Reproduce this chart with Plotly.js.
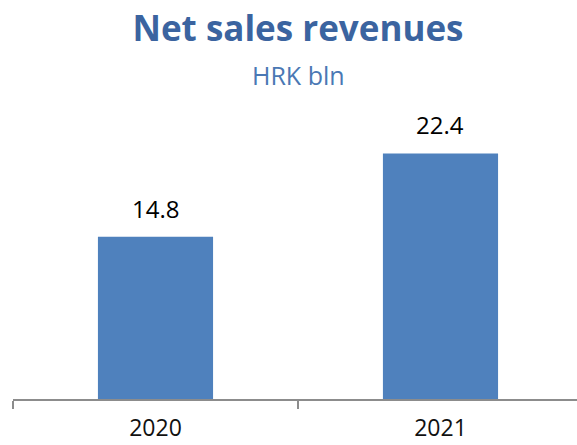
<!DOCTYPE html>
<html>
<head>
<meta charset="utf-8">
<script src="https://cdn.plot.ly/plotly-3.0.1.min.js"></script>
<style>html,body{margin:0;padding:0;background:#fff;}#chart{width:577px;height:445px;}</style>
</head>
<body>
<div id="chart"></div>
<script>
var categories = ['2020', '2021'];
var values = [14.8, 22.4];
var valueLabels = ['14.8', '22.4'];
var chartTitle = 'Net sales revenues';
var chartSubtitle = 'HRK bln';

var FONT = '"Open Sans", sans-serif';

var trace = {
  type: 'bar',
  x: categories,
  y: values,
  marker: {color: '#4F81BD', line: {width: 0}},
  hoverinfo: 'none'
};

// plot area: top 114px, bottom 399px (285px tall)
var annotations = categories.map(function (c, i) {
  return {
    x: i, y: values[i], xref: 'x', yref: 'y',
    text: valueLabels[i], showarrow: false,
    xanchor: 'center', yanchor: 'bottom', yshift: 10,
    font: {family: FONT, size: 24, color: '#000'}
  };
});
annotations.push({
  xref: 'paper', yref: 'paper', x: (298 - 13) / 564, y: (399 - 75) / 285,
  xanchor: 'center', yanchor: 'middle', showarrow: false,
  text: chartSubtitle, font: {family: FONT, size: 25, color: '#4A78B4'}
});

var layout = {
  width: 577, height: 445,
  margin: {l: 13, r: 0, t: 114, b: 46, pad: 0},
  paper_bgcolor: '#fff', plot_bgcolor: '#fff',
  showlegend: false,
  bargap: 0.596,
  title: {
    text: '<b>' + chartTitle + '</b>',
    x: 298/577, xanchor: 'center', xref: 'container',
    y: 1 - 29/445, yanchor: 'middle', yref: 'container',
    font: {family: FONT, size: 35, color: '#3B64A0'}
  },
  xaxis: {
    type: 'category',
    range: [-0.5, 1.479],
    tickson: 'boundaries',
    ticks: 'outside', ticklen: 8, tickwidth: 2, tickcolor: '#8c8c8c',
    ticklabelstandoff: 7,
    showline: true, linecolor: '#8c8c8c', linewidth: 2,
    showgrid: false, zeroline: false,
    tickfont: {family: FONT, size: 23, color: '#111'},
    fixedrange: true
  },
  yaxis: {
    range: [0, 26],
    visible: false, showgrid: false, zeroline: false,
    fixedrange: true
  },
  annotations: annotations
};

Plotly.newPlot('chart', [trace], layout, {displayModeBar: false, staticPlot: true});
</script>
</body>
</html>
